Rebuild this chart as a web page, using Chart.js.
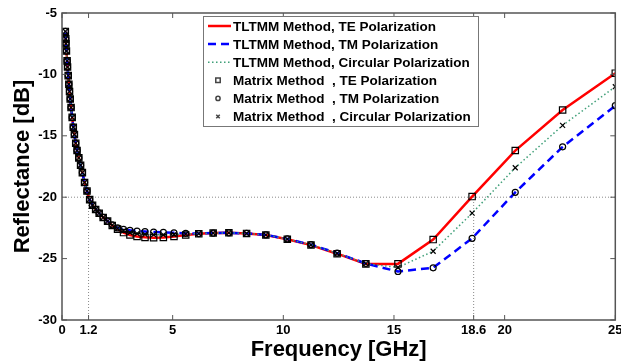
<!DOCTYPE html>
<html>
<head>
<meta charset="utf-8">
<script src="https://cdn.jsdelivr.net/npm/chart.js@4.4.1/dist/chart.umd.min.js"></script>
<style>
  html, body { margin: 0; padding: 0; background: #fff; }
  #wrap { width: 621px; height: 364px; }
</style>
</head>
<body>
<div id="wrap"><canvas id="chart" width="621" height="364"></canvas></div>
<script>
// frequency samples [GHz]
const freq = [
  0.15, 0.17, 0.18, 0.20, 0.23, 0.25, 0.28, 0.31, 0.34, 0.37,
  0.41, 0.46, 0.51, 0.56, 0.62, 0.68, 0.76, 0.84, 0.92, 1.02,
  1.13, 1.25, 1.38, 1.52, 1.68, 1.86, 2.06, 2.27, 2.51, 2.78,
  3.07, 3.39, 3.75, 4.14, 4.58, 5.06, 5.59, 6.18, 6.83, 7.54,
  8.34, 9.21, 10.18, 11.25, 12.43, 13.73, 15.18, 16.77, 18.53, 20.48,
  22.62, 25.00
];

// reflectance [dB]
const teValues = [
  -6.5, -7.1, -7.5, -8.1, -8.9, -9.4, -10.1, -10.8, -11.4, -12.0,
  -12.7, -13.5, -14.3, -14.9, -15.6, -16.2, -16.8, -17.4, -18.0, -18.8,
  -19.5, -20.2, -20.65, -21.0, -21.3, -21.65, -21.95, -22.3, -22.6, -22.88,
  -23.08, -23.2, -23.27, -23.3, -23.28, -23.2, -23.08, -22.98, -22.92, -22.9,
  -22.95, -23.08, -23.42, -23.9, -24.6, -25.43, -25.43, -23.45, -19.95, -16.2,
  -12.9, -9.9
];
const tmValues = [
  -6.5, -7.1, -7.5, -8.1, -8.9, -9.4, -10.1, -10.8, -11.4, -12.0,
  -12.7, -13.5, -14.3, -14.9, -15.6, -16.2, -16.8, -17.4, -18.0, -18.8,
  -19.5, -20.2, -20.65, -21.0, -21.3, -21.65, -21.95, -22.25, -22.5, -22.62,
  -22.7, -22.76, -22.8, -22.84, -22.87, -22.9, -22.95, -22.96, -22.92, -22.9,
  -22.95, -23.06, -23.4, -23.87, -24.55, -25.4, -26.05, -25.75, -23.35, -19.6,
  -15.9, -12.55
];
const circValues = [
  -6.5, -7.1, -7.5, -8.1, -8.9, -9.4, -10.1, -10.8, -11.4, -12.0,
  -12.7, -13.5, -14.3, -14.9, -15.6, -16.2, -16.8, -17.4, -18.0, -18.8,
  -19.5, -20.2, -20.65, -21.0, -21.3, -21.65, -21.95, -22.28, -22.55, -22.75,
  -22.88, -22.96, -23.02, -23.05, -23.06, -23.04, -23.01, -22.97, -22.92, -22.9,
  -22.95, -23.07, -23.41, -23.88, -24.57, -25.41, -25.72, -24.4, -21.3, -17.6,
  -14.15, -11.0
];

const xTicks = [0, 1.2, 5, 10, 15, 18.6, 20, 25];
const yTicks = [-30, -25, -20, -15, -10, -5];
const refLevel = -20;
const refFreqs = [1.2, 18.6];

const FONT = '"Liberation Sans", Arial, sans-serif';
Chart.defaults.font.family = FONT;
Chart.defaults.color = '#000';

const pts = ys => freq.map((f, i) => ({ x: f, y: ys[i] }));

// dotted reference lines, box with inner ticks
const framePlugin = {
  id: 'frame',
  beforeDatasetsDraw(chart) {
    const { ctx, chartArea: a, scales: { x, y } } = chart;
    const yr = y.getPixelForValue(refLevel);
    ctx.save();
    ctx.strokeStyle = '#8a8a8a';
    ctx.lineWidth = 1;
    ctx.setLineDash([1, 2]);
    ctx.beginPath();
    ctx.moveTo(a.left, yr);
    ctx.lineTo(a.right, yr);
    refFreqs.forEach(f => {
      const px = x.getPixelForValue(f);
      ctx.moveTo(px, a.bottom);
      ctx.lineTo(px, yr);
    });
    ctx.stroke();
    ctx.restore();
  },
  afterDatasetsDraw(chart) {
    const { ctx, chartArea: a, scales: { x, y } } = chart;
    ctx.save();
    ctx.strokeStyle = '#555';
    ctx.lineWidth = 1.5;
    ctx.strokeRect(a.left, a.top, a.right - a.left, a.bottom - a.top);
    ctx.lineWidth = 1;
    ctx.beginPath();
    xTicks.forEach(v => {
      const px = x.getPixelForValue(v);
      ctx.moveTo(px, a.bottom); ctx.lineTo(px, a.bottom - 5);
      ctx.moveTo(px, a.top); ctx.lineTo(px, a.top + 5);
    });
    yTicks.forEach(v => {
      const py = y.getPixelForValue(v);
      ctx.moveTo(a.left, py); ctx.lineTo(a.left + 5, py);
      ctx.moveTo(a.right, py); ctx.lineTo(a.right - 5, py);
    });
    ctx.stroke();
    ctx.restore();
  }
};

// MATLAB-like legend box in the upper middle
const legendPlugin = {
  id: 'boxLegend',
  afterDraw(chart) {
    const ctx = chart.ctx;
    const bx = 203, by = 16, bw = 275, bh = 110;
    ctx.save();
    ctx.fillStyle = '#fff';
    ctx.fillRect(bx, by, bw, bh);
    ctx.strokeStyle = '#777';
    ctx.lineWidth = 1;
    ctx.strokeRect(bx + 0.5, by + 0.5, bw, bh);
    ctx.font = 'bold 13.5px ' + FONT;
    ctx.textBaseline = 'middle';
    chart.data.datasets.forEach((ds, i) => {
      const cy = by + 10 + i * 18.1;
      if (ds.showLine !== false) {
        ctx.strokeStyle = ds.borderColor;
        ctx.lineWidth = ds.borderWidth;
        ctx.setLineDash(ds.borderDash || []);
        ctx.beginPath();
        ctx.moveTo(bx + 5, cy);
        ctx.lineTo(bx + 28, cy);
        ctx.stroke();
        ctx.setLineDash([]);
      } else {
        ctx.strokeStyle = '#444';
        ctx.fillStyle = 'rgba(0,0,0,0)';
        Chart.helpers.drawPoint(ctx, {
          pointStyle: ds.pointStyle,
          radius: ds.pointRadius * 0.7,
          borderWidth: 1
        }, bx + 15, cy);
      }
      ctx.fillStyle = '#000';
      ctx.fillText(ds.label, bx + 30, cy + 1);
    });
    ctx.restore();
  }
};

new Chart(document.getElementById('chart'), {
  type: 'line',
  data: {
    datasets: [
      {
        label: 'TLTMM Method, TE Polarization',
        data: pts(teValues),
        borderColor: '#ff0000', borderWidth: 2.5,
        pointRadius: 0, order: 3
      },
      {
        label: 'TLTMM Method, TM Polarization',
        data: pts(tmValues),
        borderColor: '#0000ff', borderWidth: 2.5, borderDash: [8, 5],
        pointRadius: 0, order: 2
      },
      {
        label: 'TLTMM Method, Circular Polarization',
        data: pts(circValues),
        borderColor: '#3f9f78', borderWidth: 1.5, borderDash: [1.5, 2.5],
        pointRadius: 0, order: 1
      },
      {
        label: 'Matrix Method  , TE Polarization',
        data: pts(teValues), showLine: false,
        pointStyle: 'rect', pointRadius: 4.5,
        pointBorderColor: '#000', pointBackgroundColor: 'rgba(0,0,0,0)',
        pointBorderWidth: 1.2, borderColor: '#000', order: 0
      },
      {
        label: 'Matrix Method  , TM Polarization',
        data: pts(tmValues), showLine: false,
        pointStyle: 'circle', pointRadius: 3,
        pointBorderColor: '#000', pointBackgroundColor: 'rgba(0,0,0,0)',
        pointBorderWidth: 1.2, borderColor: '#000', order: 0
      },
      {
        label: 'Matrix Method  , Circular Polarization',
        data: pts(circValues), showLine: false,
        pointStyle: 'crossRot', pointRadius: 3.5,
        pointBorderColor: '#000', pointBorderWidth: 1.2,
        borderColor: '#000', order: 0
      }
    ]
  },
  options: {
    responsive: false,
    animation: false,
    devicePixelRatio: 1,
    layout: { padding: { top: 13, right: 2, left: 0, bottom: 0 } },
    plugins: { legend: { display: false }, tooltip: { enabled: false } },
    scales: {
      x: {
        type: 'linear', min: 0, max: 25,
        grid: { display: false, drawTicks: false },
        border: { display: false },
        afterBuildTicks: s => { s.ticks = xTicks.map(v => ({ value: v })); },
        afterFit: s => { s.height = 44; s.paddingLeft = 0; s.paddingRight = 0; },
        ticks: {
          autoSkip: false, maxRotation: 0, padding: 3,
          font: { size: 13, weight: 'bold' },
          callback: v => String(v)
        },
        title: {
          display: true, text: 'Frequency [GHz]',
          font: { size: 22, weight: 'bold' },
          padding: { top: 0, bottom: 1 }
        }
      },
      y: {
        min: -30, max: -5,
        grid: { display: false, drawTicks: false },
        border: { display: false },
        afterBuildTicks: s => { s.ticks = yTicks.map(v => ({ value: v })); },
        afterFit: s => { s.width = 62; s.paddingTop = 0; s.paddingBottom = 0; },
        ticks: {
          padding: 5,
          font: { size: 13, weight: 'bold' },
          callback: v => String(v)
        },
        title: {
          display: true, text: 'Reflectance [dB]',
          font: { size: 22, weight: 'bold' },
          padding: { top: 10, bottom: 0 }
        }
      }
    }
  },
  plugins: [framePlugin, legendPlugin]
});
</script>
</body>
</html>
